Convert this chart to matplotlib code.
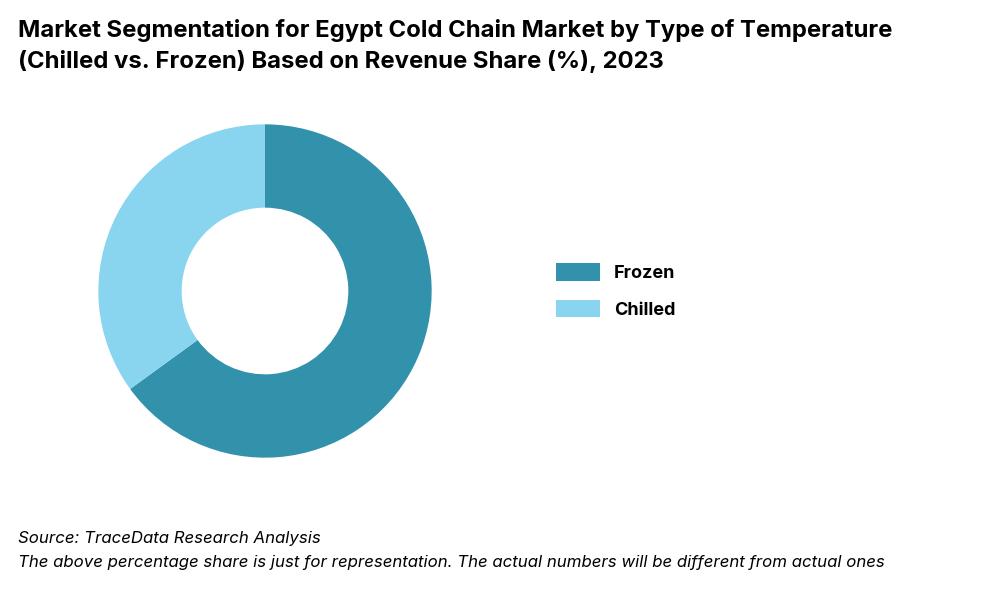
import matplotlib.pyplot as plt

labels = ['Frozen', 'Chilled']
shares = [65, 35]
colors = ['#3291AB', '#89D5F0']

plt.rcParams['font.family'] = 'Inter'

fig = plt.figure(figsize=(10, 6), dpi=100)

fig.text(0.018, 0.968, 'Market Segmentation for Egypt Cold Chain Market by Type of Temperature\n(Chilled vs. Frozen) Based on Revenue Share (%), 2023',
         fontsize=17.2, fontweight='bold', va='top', ha='left', linespacing=1.45)

ax = fig.add_axes([0.265 - 0.2, 1 - 0.485 - 0.2 * 10 / 6, 0.4, 0.4 * 10 / 6])
wedges, _ = ax.pie(shares, colors=colors, startangle=90, counterclock=False,
                   radius=1.0, wedgeprops=dict(width=0.5))
ax.set_xlim(-1.2, 1.2)
ax.set_ylim(-1.2, 1.2)
ax.set_aspect('equal')

fig.legend(wedges, labels, loc='center left', bbox_to_anchor=(0.54, 0.515),
           frameon=False, prop={'weight': 'bold', 'size': 13},
           handlelength=2.4, handleheight=1.1, labelspacing=1.0, handletextpad=0.8)

fig.text(0.018, 0.103, 'Source: TraceData Research Analysis', fontsize=12.1, style='italic', va='center')
fig.text(0.018, 0.063, 'The above percentage share is just for representation. The actual numbers will be different from actual ones',
         fontsize=12.1, style='italic', va='center')

fig.savefig('out.png', dpi=100)
